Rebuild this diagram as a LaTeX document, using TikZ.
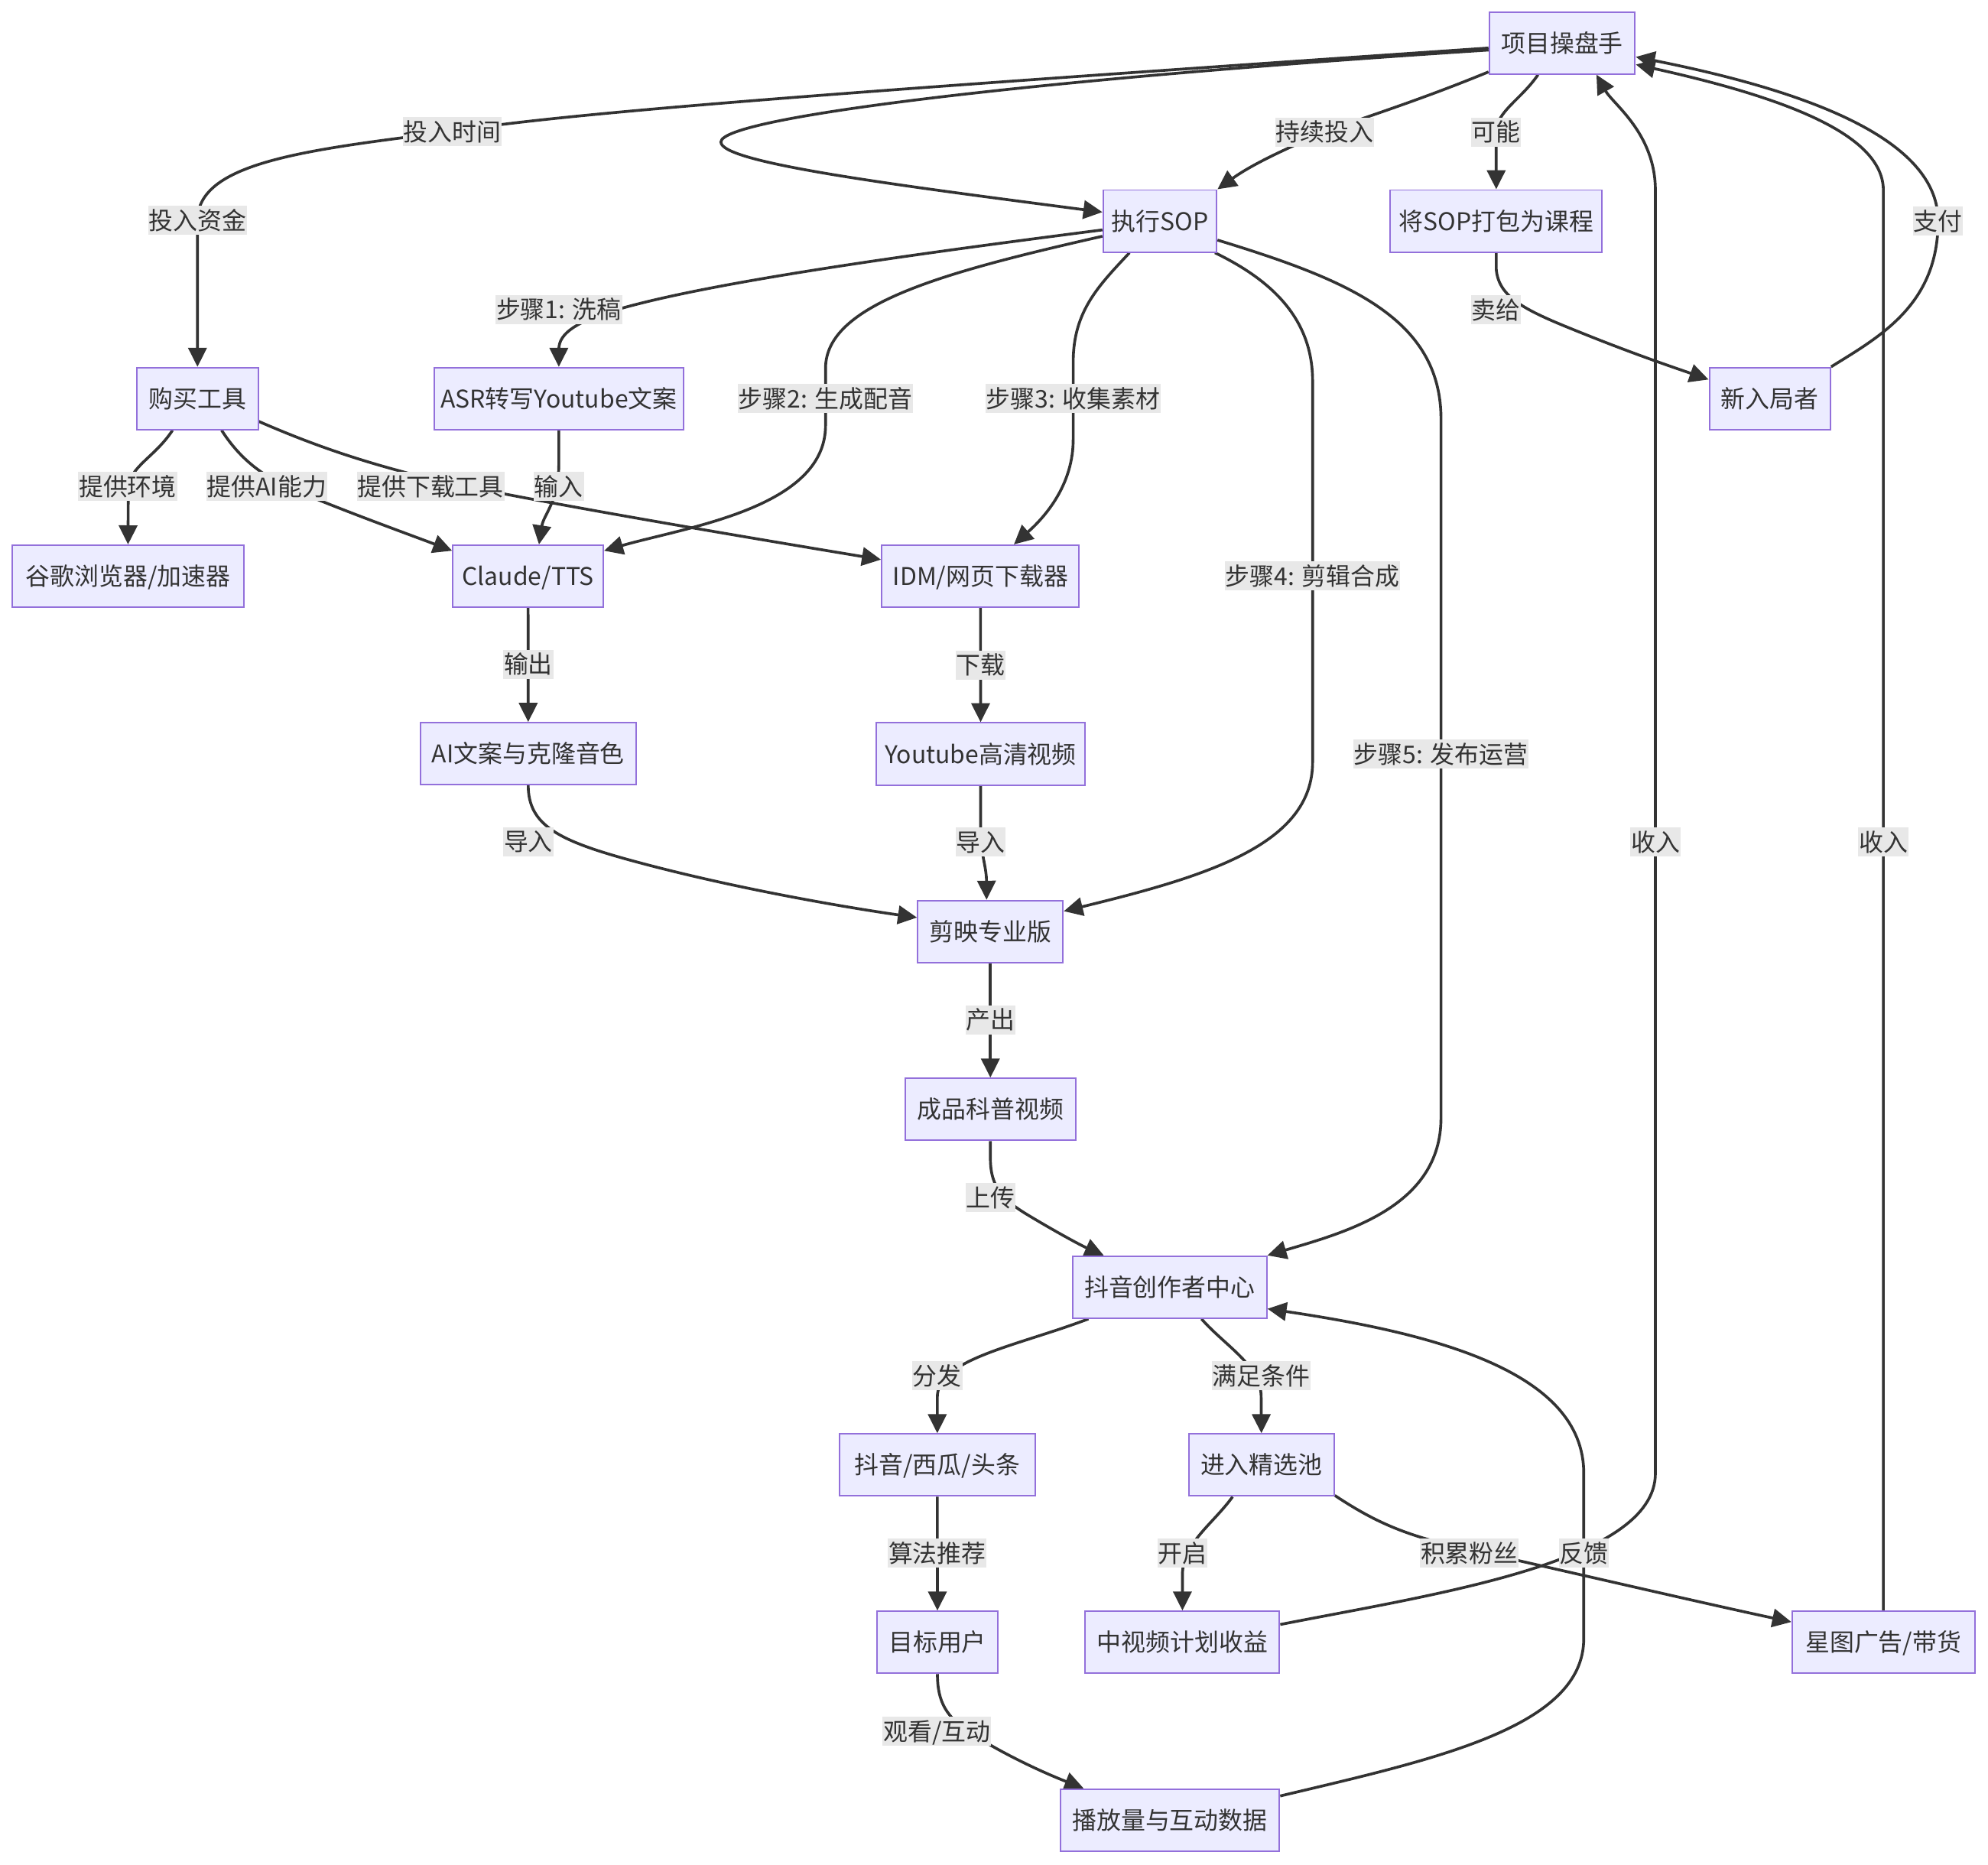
\documentclass[tikz,border=0pt]{standalone}
\usepackage{fontspec}
\setmainfont{Noto Sans CJK SC}
\usetikzlibrary{arrows.meta}
\pgfdeclarelayer{bg}
\pgfdeclarelayer{edges}
\pgfsetlayers{bg,edges,main}
\definecolor{boxfill}{HTML}{ECECFF}
\definecolor{boxline}{HTML}{9370DB}
\definecolor{linec}{HTML}{333333}
\definecolor{labelbg}{HTML}{E8E8E8}
\newcommand{\myfs}{\fontsize{19.2pt}{23pt}\selectfont}
\tikzset{
  box/.style={draw=boxline, fill=boxfill, line width=1.2pt, minimum height=48.8pt,
    inner xsep=2pt, inner ysep=0pt, text height=16.9pt, text depth=2.3pt, font=\myfs, text=linec},
  elabel/.style={fill=labelbg, inner xsep=0.5pt, inner ysep=1.85pt,
    text height=16.9pt, text depth=2.3pt, font=\myfs, text=linec},
  conn/.style={draw=linec, line width=2.2pt, -{Triangle[length=15pt,width=14.5pt]}},
}
\begin{document}
\begin{tikzpicture}[x=1pt,y=-1pt]
\begin{pgfonlayer}{bg}
\fill[white] (0,0) rectangle (1565.3,1467.8);
\end{pgfonlayer}
\useasboundingbox (0,0) rectangle (1565.3,1467.8);

% nodes
\node[box, minimum width=114.8pt] (A) at (1230,33.8) {项目操盘手};
\node[box, minimum width=89.4pt] (B) at (913.3,174) {执行SOP};
\node[box, minimum width=166.8pt] (C) at (1178.1,174) {将SOP打包为课程};
\node[box, minimum width=95.3pt] (D) at (1393.5,313.8) {新入局者};
\node[box, minimum width=95.4pt] (E) at (155.5,313.8) {购买工具};
\node[box, minimum width=196pt] (F) at (440,313.8) {ASR转写Youtube文案};
\node[box, minimum width=182.5pt] (G) at (100.8,453.6) {谷歌浏览器/加速器};
\node[box, minimum width=118.5pt] (H) at (415.8,453.6) {Claude/TTS};
\node[box, minimum width=155.5pt] (I) at (772,453.6) {IDM/网页下载器};
\node[box, minimum width=169.7pt] (J) at (415.9,593.4) {AI文案与克隆音色};
\node[box, minimum width=164.3pt] (K) at (772.1,593.6) {Youtube高清视频};
\node[box, minimum width=114.4pt] (L) at (779.8,733.4) {剪映专业版};
\node[box, minimum width=134.4pt] (M) at (779.8,873.4) {成品科普视频};
\node[box, minimum width=152.7pt] (N) at (921,1013.4) {抖音创作者中心};
\node[box, minimum width=154pt] (O) at (738,1153.4) {抖音/西瓜/头条};
\node[box, minimum width=114.4pt] (P) at (993.2,1153.4) {进入精选池};
\node[box, minimum width=95.2pt] (Q) at (738.1,1293) {目标用户};
\node[box, minimum width=152.9pt] (R) at (931,1293) {中视频计划收益};
\node[box, minimum width=143.7pt] (S) at (1482.9,1293) {星图广告/带货};
\node[box, minimum width=172.6pt] (T) at (921.1,1433) {播放量与互动数据};

% labels
\node[elabel] (l1) at (356,103.5) {投入时间};
\node[elabel] (l2) at (155.5,173.5) {投入资金};
\node[elabel] (l3) at (1043,104) {持续投入};
\node[elabel] (l4) at (1178,104) {可能};
\node[elabel] (l5) at (1178,244) {卖给};
\node[elabel] (l6) at (1526,174) {支付};
\node[elabel] (l7) at (440,243.7) {步骤1: 洗稿};
\node[elabel] (l8) at (650,313.8) {步骤2: 生成配音};
\node[elabel] (l9) at (845,313.8) {步骤3: 收集素材};
\node[elabel] (l10) at (1033.5,453.5) {步骤4: 剪辑合成};
\node[elabel] (l11) at (1134.6,593.6) {步骤5: 发布运营};
\node[elabel] (l12) at (100.5,383) {提供环境};
\node[elabel] (l13) at (210,383) {提供AI能力};
\node[elabel] (l14) at (339,383) {提供下载工具};
\node[elabel] (l15) at (440,383) {输入};
\node[elabel] (l16) at (416,523) {输出};
\node[elabel] (l17) at (772,523.5) {下载};
\node[elabel] (l18) at (416,662.7) {导入};
\node[elabel] (l19) at (772,663) {导入};
\node[elabel] (l20) at (780,803) {产出};
\node[elabel] (l21) at (780,943) {上传};
\node[elabel] (l22) at (1303.4,663) {收入};
\node[elabel] (l23) at (1482.9,663) {收入};
\node[elabel] (l24) at (738,1083) {分发};
\node[elabel] (l25) at (993,1083) {满足条件};
\node[elabel] (l26) at (738,1223) {算法推荐};
\node[elabel] (l27) at (931,1223) {开启};
\node[elabel] (l28) at (1157,1223) {积累粉丝};
\node[elabel] (l29) at (1247,1223) {反馈};
\node[elabel] (l30) at (737.7,1363) {观看/互动};

\begin{pgfonlayer}{edges}
% A -> E
\draw[conn] ([yshift=-4pt]A.west) .. controls (700,70) and (450,88) .. (356,103.5)
  .. controls (240,118) and (155.5,128) .. (155.5,173.5) -- (E.north);
% A -> B loop
\draw[conn] ([yshift=-5.6pt]A.west) .. controls (820,62) and (567.6,92) .. (567.6,111.8)
  .. controls (567.6,128) and (700,145) .. ([yshift=7pt]B.west);
% A -> B
\draw[conn] ([yshift=2.2pt]A.south west) .. controls (1115,80) and (1075,92) .. (1043,104)
  .. controls (1010,118) and (985,130) .. (B.north east);
% A -> C
\draw[conn] ([xshift=-19pt]A.south) .. controls (1198,78) and (1178,88) .. (1178,104) -- (C.north);
% C -> D
\draw[conn] (C.south) -- (1178.1,212) .. controls (1180,236) and (1205,246) .. (1250,264)
  .. controls (1290,280) and (1320,290) .. ([yshift=-10pt]D.north west);
% D -> A
\draw[conn] (D.north east) .. controls (1480,265) and (1526,240) .. (1526,174)
  .. controls (1526,115) and (1440,75) .. ([yshift=-11pt]A.east);
% S -> A
\draw[conn] (S.north) -- (1482.9,150) .. controls (1482.9,110) and (1420,80) .. ([yshift=-17pt]A.east);
% R -> A
\draw[conn] ([yshift=14pt]R.east) .. controls (1130,1255) and (1303.4,1230) .. (1303.4,1160)
  -- (1303.4,150) .. controls (1303.4,105) and (1270,82) .. ([xshift=27pt]A.south);
% T -> N
\draw[conn] ([yshift=19pt]T.east) .. controls (1130,1385) and (1247,1360) .. (1247,1290)
  -- (1247,1160) .. controls (1247,1080) and (1130,1050) .. ([yshift=-17pt]N.east);
% P -> S
\draw[conn] ([yshift=1pt]P.south east) .. controls (1085,1200) and (1110,1210) .. (1157,1220)
  .. controls (1220,1234) and (1340,1262) .. ([yshift=16pt]S.west);
% P -> R
\draw[conn] ([xshift=-22.7pt]P.south) .. controls (955,1200) and (931,1215) .. (931,1240) -- (R.north);
% N -> P
\draw[conn] ([xshift=25pt]N.south) .. controls (965,1060) and (993,1075) .. (993,1100) -- (P.north);
% N -> O
\draw[conn] ([xshift=-64pt]N.south) .. controls (800,1060) and (738,1070) .. (738,1100) -- (O.north);
% O -> Q
\draw[conn] (O.south) -- (Q.north);
% Q -> T
\draw[conn] (Q.south) .. controls (738.1,1340) and (745,1352) .. (765,1365)
  .. controls (790,1381) and (820,1395) .. ([xshift=19pt]T.north west);
% M -> N
\draw[conn] (M.south) -- (779.8,912) .. controls (779.8,935) and (790,945) .. (810,957)
  .. controls (830,969) and (850,980) .. ([xshift=25pt]N.north west);
% B -> N
\draw[conn] ([yshift=-15pt]B.east) .. controls (1060,220) and (1134.6,250) .. (1134.6,330)
  -- (1134.6,880) .. controls (1134.6,950) and (1060,970) .. (N.north east);
% B -> L
\draw[conn] ([xshift=-2pt]B.south east) .. controls (1000,220) and (1033.5,250) .. (1033.5,300)
  -- (1033.5,600) .. controls (1033.5,665) and (950,690) .. ([yshift=16pt]L.east);
% B -> I
\draw[conn] ([xshift=-24pt]B.south) .. controls (865,225) and (845,245) .. (845,285)
  -- (845,346) .. controls (845,380) and (825,405) .. ([xshift=-52pt]I.north east);
% B -> H
\draw[conn] ([yshift=-12pt]B.west) .. controls (740,215) and (650,240) .. (650,290)
  -- (650,335) .. controls (650,400) and (540,415) .. ([yshift=-5pt]H.north east);
% B -> F
\draw[conn] ([yshift=-7pt]B.west) .. controls (720,200) and (560,222) .. (485,244)
  .. controls (455,253) and (440,262) .. (440,275) -- (F.north);
% E -> G
\draw[conn] ([xshift=-19.7pt]E.south) .. controls (122,360) and (101,368) .. (101,385) -- (G.north);
% E -> H
\draw[conn] ([xshift=19pt]E.south) .. controls (185,355) and (200,372) .. (230,385)
  .. controls (270,402) and (320,420) .. ([yshift=-5pt]H.north west);
% E -> I
\draw[conn] ([yshift=-18pt]E.east) .. controls (250,352) and (290,365) .. (339,377)
  .. controls (420,395) and (600,425) .. ([yshift=13pt]I.west);
% F -> H
\draw[conn] (F.south) -- (440,365) .. controls (440,395) and (428,405) .. ([xshift=8.6pt]H.north);
% H -> J
\draw[conn] (H.south) -- (J.north);
% I -> K
\draw[conn] (I.south) -- (K.north);
% J -> L
\draw[conn] (J.south) .. controls (416,650) and (440,662) .. (499,678)
  .. controls (580,700) and (670,715) .. ([yshift=11pt]L.west);
% K -> L
\draw[conn] (K.south) -- (772.1,655) .. controls (772.1,672) and (776.7,682) .. ([xshift=-3pt]L.north);
% L -> M
\draw[conn] (L.south) -- (M.north);
\end{pgfonlayer}
\end{tikzpicture}
\end{document}
